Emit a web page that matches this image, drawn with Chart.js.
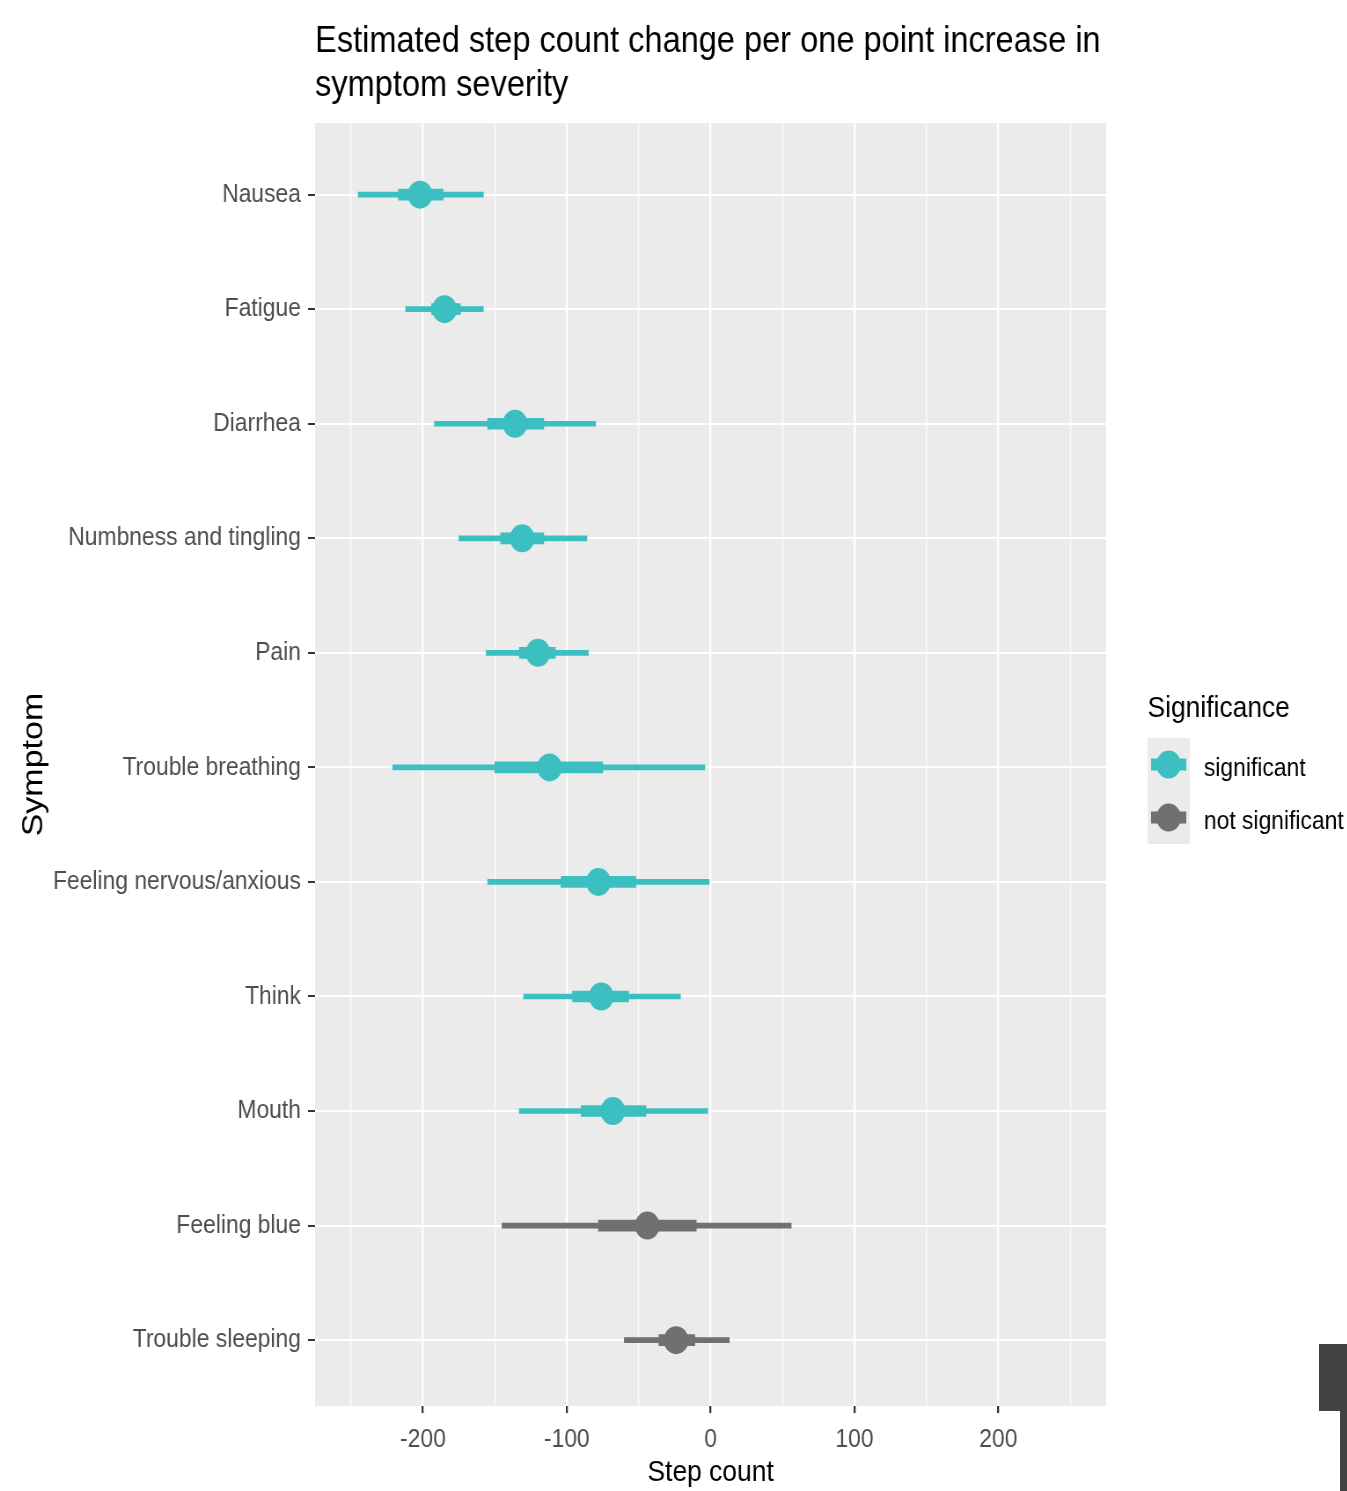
<!DOCTYPE html>
<html>
<head>
<meta charset="utf-8">
<title>Estimated step count change per symptom</title>
<script src="https://cdn.jsdelivr.net/npm/chart.js@4.4.1/dist/chart.umd.min.js"></script>
<style>
  html, body { margin: 0; padding: 0; background: #fff; overflow: hidden; }
  /* the reference picture is squeezed sideways, so draw wide and scale it down */
  #wrap { position: absolute; left: 0; top: 0; width: 1531px; height: 1491px;
          transform: scaleX(0.88); transform-origin: 0 0; }
  .edge { position: absolute; background: #424242; }
</style>
</head>
<body>
<div id="wrap"><canvas id="forest"></canvas></div>
<div class="edge" style="left:1319px;top:1344px;width:28px;height:67px"></div>
<div class="edge" style="left:1340px;top:1411px;width:7px;height:80px"></div>
<script>
// Symptoms, top to bottom
const symptoms = ['Nausea', 'Fatigue', 'Diarrhea', 'Numbness and tingling', 'Pain',
  'Trouble breathing', 'Feeling nervous/anxious', 'Think', 'Mouth', 'Feeling blue', 'Trouble sleeping'];
// point estimate and intervals (step count)
const estimate  = [-202, -185, -136, -131, -120, -112, -78, -76, -68, -44, -24];
const innerLow  = [-217, -194, -155, -146, -133, -150, -104, -96, -90, -78, -36];
const innerHigh = [-186, -174, -116, -116, -108, -75, -52, -57, -45, -10, -11];
const outerLow  = [-245, -212, -192, -175, -156, -221, -155, -130, -133, -145, -60];
const outerHigh = [-158, -158, -80, -86, -85, -4, -1, -21, -2, 56, 13];
const significance = ['significant', 'significant', 'significant', 'significant', 'significant',
  'significant', 'significant', 'significant', 'significant', 'not significant', 'not significant'];
const groups = ['significant', 'not significant'];
const xTicks = [-250, -200, -150, -100, -50, 0, 50, 100, 150, 200, 250];

const groupColors = ['#3bbfc1', '#707070'];
const FONT = "'Liberation Sans', Arial, sans-serif";
const markColors = significance.map(g => groupColors[groups.indexOf(g)]);
const isMajor = v => v % 100 === 0;

// grey panel behind the grid
const panelBg = {
  id: 'panelBg',
  beforeDraw(chart) {
    const { ctx, chartArea: a } = chart;
    ctx.save();
    ctx.fillStyle = '#ebebeb';
    ctx.fillRect(a.left, a.top, a.right - a.left, a.bottom - a.top);
    ctx.restore();
  }
};

// ggplot style legend on the right
const sigLegend = {
  id: 'sigLegend',
  afterDraw(chart) {
    const { ctx, chartArea: a } = chart;
    const left = a.right + 47;
    const mid = (a.top + a.bottom) / 2;
    ctx.save();
    ctx.textBaseline = 'middle';
    ctx.textAlign = 'left';
    ctx.fillStyle = '#000';
    ctx.font = `30px ${FONT}`;
    ctx.fillText('Significance', left, mid - 56);
    groups.forEach((g, i) => {
      const top = mid - 26.5 + i * 53;
      const cy = top + 26.5;
      ctx.fillStyle = '#ebebeb';
      ctx.fillRect(left, top, 48, 53);
      ctx.fillStyle = groupColors[i];
      ctx.fillRect(left + 4, cy - 6, 40, 12);
      ctx.beginPath();
      ctx.arc(left + 24, cy, 14, 0, Math.PI * 2);
      ctx.fill();
      ctx.fillStyle = '#000';
      ctx.font = `26px ${FONT}`;
      ctx.fillText(g, left + 64, cy + 4);
    });
    ctx.restore();
  }
};

new Chart(document.getElementById('forest'), {
  type: 'bar',
  data: {
    datasets: [
      {
        type: 'scatter',
        label: 'Estimate',
        data: symptoms.map((s, i) => ({ x: estimate[i], y: i + 1 })),
        pointBackgroundColor: markColors,
        backgroundColor: markColors,
        pointBorderWidth: 0,
        pointRadius: 14,
        pointHoverRadius: 14,
        order: 0
      },
      {
        label: 'Inner interval',
        data: symptoms.map((s, i) => ({ x: [innerLow[i], innerHigh[i]], y: i + 1 })),
        backgroundColor: markColors,
        barThickness: 11,
        grouped: false,
        order: 1
      },
      {
        label: 'Outer interval',
        data: symptoms.map((s, i) => ({ x: [outerLow[i], outerHigh[i]], y: i + 1 })),
        backgroundColor: markColors,
        barThickness: 5,
        grouped: false,
        order: 2
      }
    ]
  },
  options: {
    indexAxis: 'y',
    responsive: true,
    maintainAspectRatio: false,
    animation: false,
    layout: { padding: { left: 0, right: 274, top: 0, bottom: 0 } },
    plugins: {
      legend: { display: false },
      tooltip: { enabled: false },
      title: {
        display: true,
        fullSize: false,
        align: 'start',
        text: ['Estimated step count change per one point increase in', 'symptom severity'],
        color: '#000',
        font: { family: FONT, size: 37, weight: 'normal', lineHeight: 1.19 },
        padding: { top: 20, bottom: 15 }
      }
    },
    scales: {
      x: {
        type: 'linear',
        min: -275,
        max: 275,
        afterFit: s => { s.height = 85; },
        afterBuildTicks: s => { s.ticks = xTicks.map(v => ({ value: v })); },
        border: { display: false },
        grid: {
          color: '#fff',
          lineWidth: c => (c.tick && isMajor(c.tick.value) ? 2.3 : 1.2),
          tickColor: c => (c.tick && isMajor(c.tick.value) ? '#333' : 'rgba(0,0,0,0)'),
          tickLength: 7,
          tickWidth: 2.3
        },
        ticks: {
          autoSkip: false,
          maxRotation: 0,
          padding: 11,
          color: '#4d4d4d',
          font: { family: FONT, size: 26 },
          callback: v => (isMajor(v) ? String(v) : '')
        },
        title: {
          display: true,
          text: 'Step count',
          color: '#000',
          font: { family: FONT, size: 30 },
          padding: { top: 0, bottom: 0 }
        }
      },
      y: {
        type: 'linear',
        reverse: true,
        min: 0.375,
        max: 11.575,
        offset: false,
        afterFit: s => { s.width = 358; },
        afterBuildTicks: s => { s.ticks = symptoms.map((_, i) => ({ value: i + 1 })); },
        border: { display: false },
        grid: {
          offset: false,
          color: '#fff',
          lineWidth: 2,
          tickColor: '#333',
          tickLength: 8,
          tickWidth: 2
        },
        ticks: {
          autoSkip: false,
          padding: 8,
          color: '#4d4d4d',
          font: { family: FONT, size: 26 },
          callback: v => symptoms[v - 1]
        },
        title: {
          display: true,
          text: 'Symptom',
          color: '#000',
          font: { family: FONT, size: 34 },
          padding: { top: 18, bottom: 0 }
        }
      }
    }
  },
  plugins: [panelBg, sigLegend]
});
</script>
</body>
</html>
